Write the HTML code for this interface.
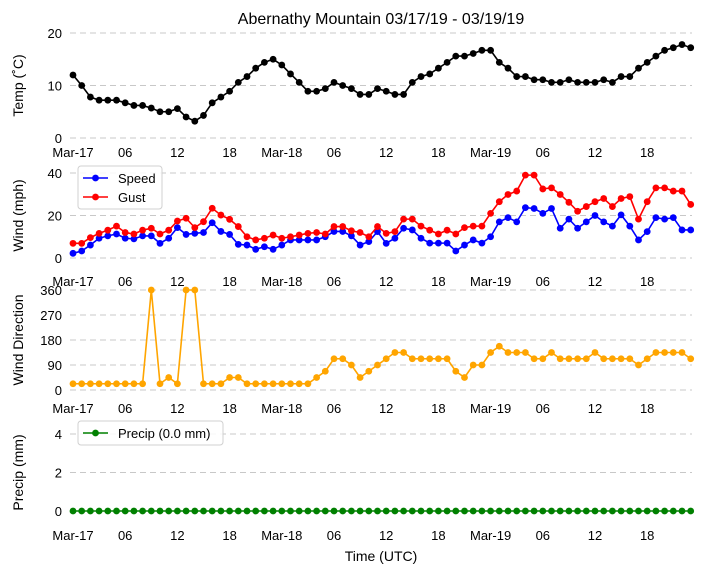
<!DOCTYPE html>
<html><head><meta charset="utf-8">
<style>
html,body{margin:0;padding:0;background:#fff;}
svg{display:block;font-family:"Liberation Sans","DejaVu Sans",sans-serif;}
</style></head>
<body>
<svg id="chart" width="704" height="573" viewBox="0 0 704 573" xmlns="http://www.w3.org/2000/svg">
<text x="381" y="24" font-size="16" text-anchor="middle">Abernathy Mountain 03/17/19 - 03/19/19</text>
<text x="381" y="561" font-size="14" text-anchor="middle">Time (UTC)</text>
</svg>
<script>
const temps=[12,10,7.8,7.2,7.2,7.2,6.7,6.2,6.2,5.7,5,5,5.6,4,3.2,4.3,6.7,7.8,8.9,10.6,11.7,13.3,14.4,15,13.9,12.2,10.6,8.9,8.9,9.4,10.6,10,9.4,8.3,8.3,9.4,8.9,8.3,8.3,10.6,11.7,12.2,13.3,14.4,15.6,15.6,16.1,16.7,16.7,14.4,13.3,11.7,11.7,11.1,11.1,10.6,10.6,11.1,10.6,10.6,10.6,11.1,10.6,11.7,11.7,13.3,14.4,15.6,16.7,17.2,17.8,17.2];
const speeds=[2.2,3.3,6.1,9.3,10.4,11.3,9.3,9,10.4,10.4,6.9,9.3,14.3,11.1,11.6,12,16.6,12.5,11.1,6.4,6.1,4.1,5.3,4.1,6.1,8.5,8.5,8.5,8.5,10,12.5,12.5,10.4,6.1,7.7,12.4,6.9,9.3,14,13.2,9.3,7,7,7,3.3,6.1,8.5,7,10,17,19,17,23.7,23.3,21,23.3,14,18.3,14,17,20,17,15,20.3,15,8.5,12.4,19,18.3,19,13.2,13.2];
const gusts=[6.9,6.9,9.6,11.6,13.1,15,12,11.3,13.1,14,11.3,13.1,17.4,18.7,14.3,17.1,23.4,20.2,18.2,14.8,10,8.5,9.3,10.8,9.3,10,10.8,11.6,12,11.3,14.8,14.8,12.8,12,10,14.8,11.6,12.4,18.3,18.3,15,13.1,11.3,13.1,11.3,14.3,15,15,21,26.5,29.9,31.5,39,39,32.5,33,29.9,26.2,22,24.2,26.5,28,24.2,28,28.9,18.3,26.5,33,33,31.5,31.5,25.2];
const dirs=[22.5,22.5,22.5,22.5,22.5,22.5,22.5,22.5,22.5,360,22.5,45,22.5,360,360,22.5,22.5,22.5,45,45,22.5,22.5,22.5,22.5,22.5,22.5,22.5,22.5,45,67.5,112.5,112.5,90,45,67.5,90,112.5,135,135,112.5,112.5,112.5,112.5,112.5,67.5,45,90,90,135,157.5,135,135,135,112.5,112.5,135,112.5,112.5,112.5,112.5,135,112.5,112.5,112.5,112.5,90,112.5,135,135,135,135,112.5];
const precip=new Array(72).fill(0);
const xTickLabels=["Mar-17","06","12","18","Mar-18","06","12","18","Mar-19","06","12","18"];
const xTickHours=[0,6,12,18,24,30,36,42,48,54,60,66];

const svg=document.getElementById('chart');
const NS="http://www.w3.org/2000/svg";
const X0=73, DX=8.7, XL=70, XR=692;
const xs=h=>X0+DX*h;
function el(tag,attrs,parent){const e=document.createElementNS(NS,tag);for(const k in attrs)e.setAttribute(k,attrs[k]);(parent||svg).appendChild(e);return e;}

const panels=[
 {name:'temp',y0:138,ppu:5.25,ticks:[0,10,20],title:'Temp (˚C)',xlab:157},
 {name:'wind',y0:258,ppu:2.125,ticks:[0,20,40],title:'Wind (mph)',xlab:286},
 {name:'direction',y0:390,ppu:100/360,ticks:[0,90,180,270,360],title:'Wind Direction',xlab:413},
 {name:'precip',y0:511,ppu:19.25,ticks:[0,2,4],title:'Precip (mm)',xlab:540}
];
panels.forEach(p=>{
  const g=el('g',{});
  
  
  const ys=v=>p.y0-v*p.ppu;
  p.ys=ys;
  p.ticks.forEach(t=>{
    const gl=el('line',{x1:XL,x2:XR,y1:ys(t),y2:ys(t),stroke:'#c8c8c8','stroke-width':1,'stroke-dasharray':'6,4'},g);
    
    
    const tl=el('text',{x:62,y:ys(t)+5,'font-size':13,'text-anchor':'end'},g);
    tl.textContent=t;
    
    
  });
  xTickHours.forEach((h,i)=>{
    const tl=el('text',{x:xs(h),y:p.xlab,'font-size':13,'text-anchor':'middle'},g);
    tl.textContent=xTickLabels[i];
    
    
  });
  const cy=(p.ys(p.ticks[0])+p.ys(p.ticks[p.ticks.length-1]))/2;
  const at=el('text',{x:23,y:cy,'font-size':14,'text-anchor':'middle',transform:`rotate(-90 23 ${cy})`},g);
  at.textContent=p.title;
  
  
});
function series(data,ys,color,name){
  const g=el('g',{});
  
  
  el('polyline',{points:data.map((v,i)=>xs(i)+','+ys(v)).join(' '),fill:'none',stroke:color,'stroke-width':1.6},g);
  data.forEach((v,i)=>{
    const c=el('circle',{cx:xs(i),cy:ys(v),r:3.4,fill:color},g);
    
    
  });
}
series(temps,panels[0].ys,'#000','temperature');
series(speeds,panels[1].ys,'#0000ff','speed');
series(gusts,panels[1].ys,'#ff0000','gust');
series(dirs,panels[2].ys,'#ffa500','direction');
series(precip,panels[3].ys,'#008000','precip');

function legend(x,y,w,entries,name){
  const g=el('g',{});
  
  
  el('rect',{x:x,y:y,width:w,height:entries.length*19+5,rx:3,fill:'#fff','fill-opacity':0.85,stroke:'#d0d0d0'},g);
  entries.forEach((e,i)=>{
    const yy=y+12+i*19;
    const eg=el('g',{},g);
    
    
    el('line',{x1:x+5,x2:x+30,y1:yy,y2:yy,stroke:e[1],'stroke-width':1.6},eg);
    el('circle',{cx:x+17.5,cy:yy,r:3.4,fill:e[1]},eg);
    const t=el('text',{x:x+40,y:yy+5,'font-size':13},eg);
    t.textContent=e[0];
  });
}
legend(78,166,84,[['Speed','#0000ff'],['Gust','#ff0000']],'wind-legend');
legend(78,421,145,[['Precip (0.0 mm)','#008000']],'precip-legend');
</script>
</body></html>
